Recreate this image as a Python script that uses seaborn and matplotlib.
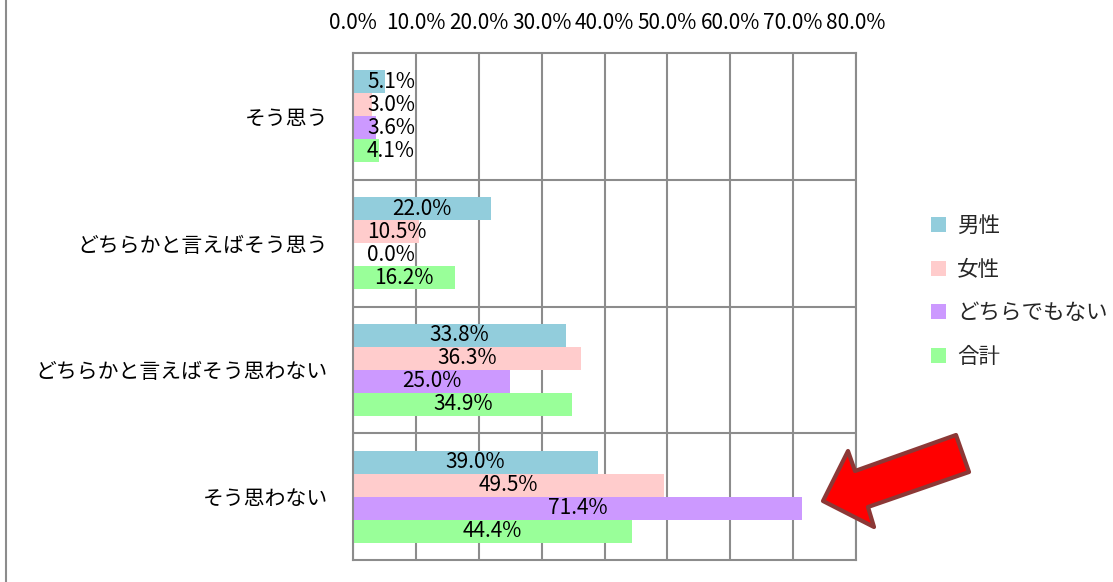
import numpy as np
import pandas as pd
import matplotlib
matplotlib.use("Agg")
import matplotlib.pyplot as plt
import seaborn as sns
from matplotlib.patches import Polygon
from matplotlib.lines import Line2D

# ---- data ----
categories = ["そう思う", "どちらかと言えばそう思う", "どちらかと言えばそう思わない", "そう思わない"]
groups = ["男性", "女性", "どちらでもない", "合計"]
male = [5.1, 22.0, 33.8, 39.0]
female = [3.0, 10.5, 36.3, 49.5]
neither = [3.6, 0.0, 25.0, 71.4]
total = [4.1, 16.2, 34.9, 44.4]
x_ticks = [0, 10, 20, 30, 40, 50, 60, 70, 80]
x_tick_labels = ["0.0%", "10.0%", "20.0%", "30.0%", "40.0%", "50.0%", "60.0%", "70.0%", "80.0%"]
colors = ["#92CDDC", "#FFCCCC", "#CC99FF", "#99FF99"]

series = {"男性": male, "女性": female, "どちらでもない": neither, "合計": total}
rows = []
for g in groups:
    for c, v in zip(categories, series[g]):
        rows.append({"category": c, "group": g, "value": v})
df = pd.DataFrame(rows)

sns.set_theme(style="white")
plt.rcParams["font.family"] = ["Noto Sans CJK JP", "DejaVu Sans"]

W, H = 1113, 582
fig = plt.figure(figsize=(W / 100, H / 100), dpi=100)
ax_l, ax_r, ax_t, ax_b = 353, 856, 53, 560
ax = fig.add_axes([ax_l / W, 1 - ax_b / H, (ax_r - ax_l) / W, (ax_b - ax_t) / H])

sns.barplot(data=df, y="category", x="value", hue="group", order=categories,
            hue_order=groups, palette=colors, orient="h", width=0.725,
            saturation=1, linewidth=0, ax=ax, errorbar=None)

grid_c = "#8c8c8c"
ax.set_xlim(0, 80)
ax.set_ylim(3.5, -0.5)
ax.xaxis.tick_top()
ax.set_xticks(x_ticks)
ax.set_xticklabels(x_tick_labels)
ax.tick_params(axis="x", length=0, pad=14, labelsize=15, colors="black")
ax.tick_params(axis="y", length=0, pad=18, labelsize=15, colors="black")
ax.set_xlabel("")
ax.set_ylabel("")
ax.grid(axis="x", color=grid_c, lw=1.5)
ax.grid(axis="y", visible=False)
ax.set_axisbelow(True)
for yy in [0.5, 1.5, 2.5]:
    ax.axhline(yy, color=grid_c, lw=1.5, zorder=0.5)
for s in ax.spines.values():
    s.set_color(grid_c)
    s.set_linewidth(1.5)
    s.set_visible(True)

# legend
handles, labels = ax.get_legend_handles_labels()
if ax.get_legend() is not None:
    ax.get_legend().remove()
fig.legend(handles, labels, loc="upper left",
           bbox_to_anchor=(912 / W, 1 - 196 / H), frameon=False,
           fontsize=15.5, handlelength=0.7, handleheight=0.7,
           handletextpad=0.5, labelspacing=1.0)

# data labels
texts = []
for cont in ax.containers:
    for bar in cont:
        v = bar.get_width()
        yc = bar.get_y() + bar.get_height() / 2
        t = ax.text(v / 2, yc, f"{v:.1f}%", ha="center", va="center",
                    fontsize=15, color="black", zorder=5)
        texts.append(t)
fig.canvas.draw()
r = fig.canvas.get_renderer()
min_left_px = ax.transAxes.transform((0, 0))[0] + 14
for t in texts:
    bb = t.get_window_extent(r)
    if bb.x0 < min_left_px:
        xd = ax.transData.inverted().transform((min_left_px, 0))[0]
        t.set_x(xd)
        t.set_ha("left")

# left border line of chart frame
fig.add_artist(Line2D([6 / W, 6 / W], [0, 1], color=grid_c, lw=1.5,
                      transform=fig.transFigure))

# red arrow (decoration)
pts = [(823, 501), (848, 451), (855, 471), (956, 435), (969, 472), (868, 507), (874, 527)]
pts_f = [(x / W, 1 - y / H) for x, y in pts]
fig.add_artist(Polygon(pts_f, closed=True, facecolor="#FF0000", edgecolor="#8C3836",
                       lw=3, joinstyle="round", transform=fig.transFigure, zorder=10))

fig.savefig("out.png", dpi=100)
